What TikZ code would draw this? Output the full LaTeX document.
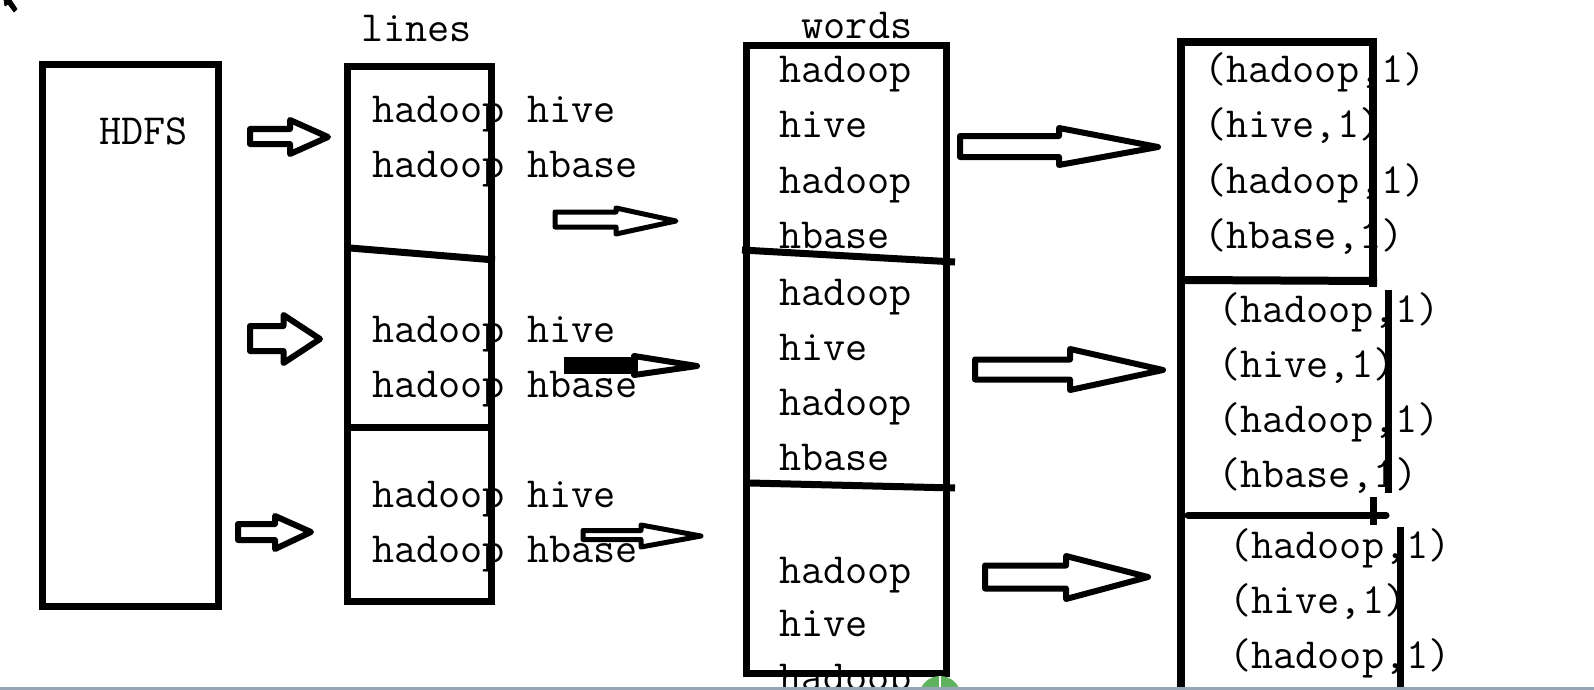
\documentclass[tikz,border=0pt]{standalone}
\usepackage{fontspec}
\definecolor{edgegray}{RGB}{150,165,182}
\definecolor{dotgreen}{RGB}{96,178,96}
\begin{document}
\begin{tikzpicture}[x=1pt,y=-1pt,
  lbl/.style={anchor=base west, inner sep=0pt, font=\ttfamily\fontsize{43}{50}\selectfont},
  boxln/.style={line width=7pt},
  rboxln/.style={line width=8pt},
  blockarrow/.style={draw, fill=white, line width=6pt, line join=round},
  thinarrow/.style={draw, fill=white, line width=5pt, line join=round}]
\useasboundingbox (0,0) rectangle (1594,690);
\fill[white] (0,0) rectangle (1594,690);

% ---- texts ----
\node[lbl] (hdfs) at (99,144) {HDFS};
\node[lbl,anchor=base] (lineslbl) at (416.5,42) {lines};
\node[lbl,anchor=base] (wordslbl) at (857,39) {words};

\node[lbl] (l1a) at (372,122) {hadoop hive};
\node[lbl] (l1b) at (372,177) {hadoop hbase};
\node[lbl] (l2a) at (372,342) {hadoop hive};
\node[lbl] (l2b) at (372,397) {hadoop hbase};
\node[lbl] (l3a) at (372,507) {hadoop hive};
\node[lbl] (l3b) at (372,562) {hadoop hbase};

\node[lbl] (w1) at (779,83) {hadoop};
\node[lbl] (w2) at (779,138) {hive};
\node[lbl] (w3) at (779,193) {hadoop};
\node[lbl] (w4) at (779,248) {hbase};
\node[lbl] (w5) at (779,305) {hadoop};
\node[lbl] (w6) at (779,360) {hive};
\node[lbl] (w7) at (779,415) {hadoop};
\node[lbl] (w8) at (779,470) {hbase};
\node[lbl] (w9) at (779,583) {hadoop};
\node[lbl] (w10) at (779,636) {hive};
\node[lbl] (w11) at (779,690) {hadoop};

\node[lbl] (p1) at (1204,83) {(hadoop,1)};
\node[lbl] (p2) at (1204,137) {(hive,1)};
\node[lbl] (p3) at (1204,193) {(hadoop,1)};
\node[lbl] (p4) at (1204,248) {(hbase,1)};
\node[lbl] (p5) at (1218,322) {(hadoop,1)};
\node[lbl] (p6) at (1218,377) {(hive,1)};
\node[lbl] (p7) at (1218,432) {(hadoop,1)};
\node[lbl] (p8) at (1218,487) {(hbase,1)};
\node[lbl] (p9) at (1229,558) {(hadoop,1)};
\node[lbl] (p10) at (1229,613) {(hive,1)};
\node[lbl] (p11) at (1229,668) {(hadoop,1)};

% ---- boxes ----
\draw[boxln] (42.5,64.5) rectangle (218.5,606.5);
\draw[boxln] (347.5,66.5) rectangle (491.5,601.5);
\draw[boxln] (350,248) -- (495,260);
\draw[boxln] (351,427.5) -- (488,427.5);

\draw[boxln] (746.5,45.5) rectangle (946.5,673.5);
\draw[boxln] (742,250) -- (955,262);
\draw[boxln] (750,483) -- (955,488);

\draw[rboxln] (1181,700) -- (1181,42.5) -- (1373,42.5) -- (1373,287);
\draw[rboxln] (1185,280) -- (1377,281);
\draw[boxln] (1388.5,290) -- (1388.5,493);
\draw[boxln, line cap=round] (1188,515) -- (1386,515);
\draw[boxln] (1373.5,497) -- (1373.5,525);
\draw[boxln] (1400.5,527) -- (1400.5,700);

% ---- block arrows ----
\draw[blockarrow] (250,129) -- (290,129) -- (290,120) -- (328,137) -- (290,154) -- (290,144) -- (250,144) -- cycle;
\draw[blockarrow] (250,326) -- (283.5,326) -- (283.5,315) -- (320,339) -- (283.5,363) -- (283.5,351) -- (250,351) -- cycle;
\draw[blockarrow] (238,524) -- (275,524) -- (275,516) -- (311,532) -- (275,549) -- (275,540) -- (238,540) -- cycle;

\draw[thinarrow] (555,212) -- (616,212) -- (616,208) -- (676,221) -- (616,234) -- (616,227) -- (555,227) -- cycle;
\draw[blockarrow] (567,361) -- (634,361) -- (634,356) -- (697,366) -- (634,375) -- (634,370) -- (567,370) -- cycle;
\fill[black] (564,357) rectangle (638,374);
\draw[thinarrow] (583,530.5) -- (641,530.5) -- (641,525) -- (701,536) -- (641,547) -- (641,539.5) -- (583,539.5) -- cycle;

\draw[blockarrow] (960,136) -- (1059,136) -- (1059,128) -- (1158,147) -- (1059,165) -- (1059,157) -- (960,157) -- cycle;
\draw[blockarrow] (975,359.5) -- (1070,359.5) -- (1070,349) -- (1163,370) -- (1070,390) -- (1070,379.5) -- (975,379.5) -- cycle;
\draw[blockarrow] (985,565.5) -- (1066,565.5) -- (1066,556) -- (1148,577) -- (1066,599) -- (1066,588.5) -- (985,588.5) -- cycle;

% ---- screenshot edge details ----
\begin{scope}
\clip (0,0) rectangle (1594,690);
\fill[dotgreen] (940,697) circle (21);
\draw[white, line width=1.5pt] (940,676) -- (940,690);
\fill[edgegray] (0,687) rectangle (1594,690);
\draw[black, fill=black, line width=0.8pt, line join=round] (4,0) -- (11,0) -- (17,9) -- (14,12) -- (8,4) -- (5,6) -- cycle;
\end{scope}
\end{tikzpicture}
\end{document}
